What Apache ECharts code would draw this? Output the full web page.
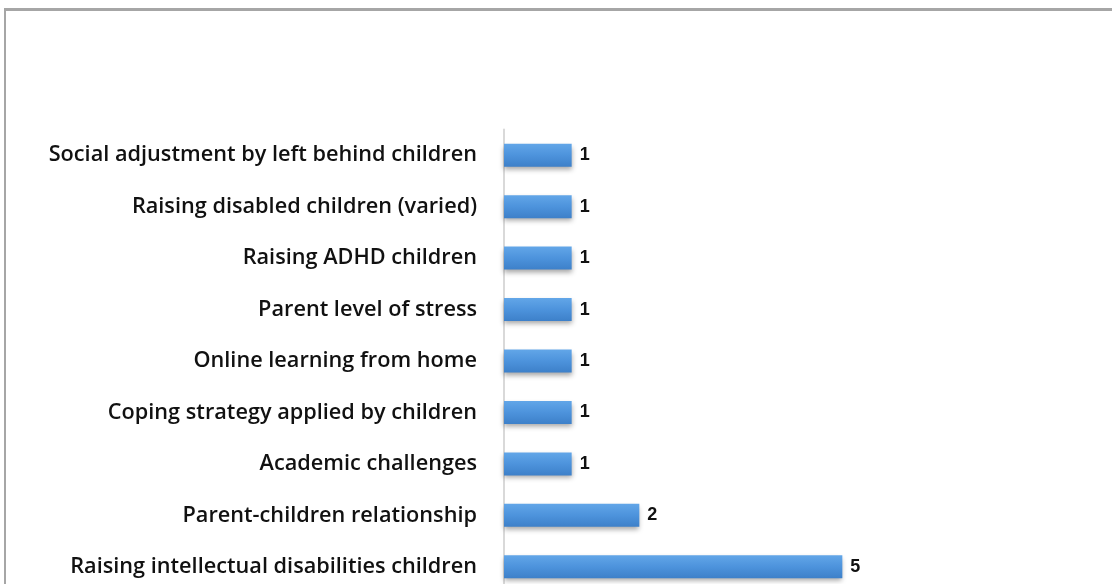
<!DOCTYPE html>
<html>
<head>
<meta charset="utf-8">
<script src="https://cdn.jsdelivr.net/npm/echarts@6/dist/echarts.min.js"></script>
<style>
html,body{margin:0;padding:0;background:#fff;}
#frame{position:absolute;left:4px;top:8px;width:1108px;height:576px;border-top:3px solid #a6a6a6;border-left:2px solid #a6a6a6;box-sizing:border-box;}
#chart{position:absolute;left:0;top:0;width:1112px;height:584px;}
</style>
</head>
<body>
<div id="frame"></div>
<div id="chart"></div>
<script>
const categories = [
  "Raising intellectual disabilities children",
  "Parent-children relationship",
  "Academic challenges",
  "Coping strategy applied by children",
  "Online learning from home",
  "Parent level of stress",
  "Raising ADHD children",
  "Raising disabled children (varied)",
  "Social adjustment by left behind children"
];
const values = [5, 2, 1, 1, 1, 1, 1, 1, 1];

const chart = echarts.init(document.getElementById('chart'), null, {renderer: 'canvas'});
chart.setOption({
  backgroundColor: 'transparent',
  animation: false,
  grid: {left: 504, width: 406, top: 129.5, height: 463, containLabel: false, outerBoundsMode: 'none'},
  xAxis: {
    type: 'value', min: 0, max: 6,
    show: false
  },
  yAxis: {
    type: 'category',
    data: categories,
    axisLine: {show: true, lineStyle: {color: '#d9d9d9', width: 2}},
    axisTick: {show: false},
    axisLabel: {
      margin: 27,
      fontFamily: 'Open Sans',
      fontWeight: 600,
      fontSize: 21.7,
      color: '#111'
    }
  },
  series: [{
    type: 'bar',
    data: values,
    barWidth: 23,
    itemStyle: {
      color: new echarts.graphic.LinearGradient(0, 0, 0, 1, [
        {offset: 0, color: '#62a6e8'},
        {offset: 0.5, color: '#4d93dc'},
        {offset: 1, color: '#3d80c9'}
      ]),
      shadowColor: 'rgba(0,0,0,0.35)',
      shadowBlur: 5,
      shadowOffsetY: 3
    },
    label: {
      show: true,
      position: 'right',
      distance: 8,
      fontFamily: 'Liberation Sans',
      fontWeight: 'bold',
      fontSize: 18,
      color: '#111'
    }
  }]
});
</script>
</body>
</html>
